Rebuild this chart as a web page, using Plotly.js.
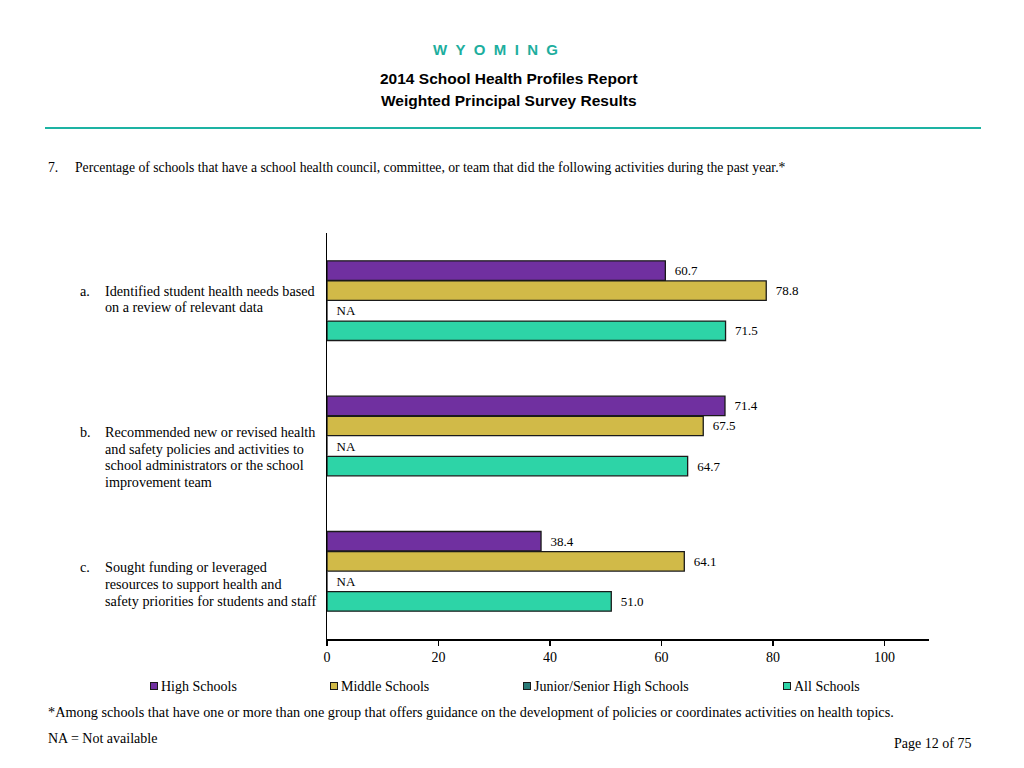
<!DOCTYPE html>
<html>
<head>
<meta charset="utf-8">
<script src="https://cdn.plot.ly/plotly-3.0.1.min.js"></script>
<style>html,body{margin:0;padding:0;background:#fff;} #chart{width:1024px;height:768px;}</style>
</head>
<body>
<div id="chart"></div>
<script>
// ---- data ----
const itemLetters = ['a.', 'b.', 'c.'];
const itemLabels = [
  'Identified student health needs based<br>on a review of relevant data',
  'Recommended new or revised health<br>and safety policies and activities to<br>school administrators or the school<br>improvement team',
  'Sought funding or leveraged<br>resources to support health and<br>safety priorities for students and staff'
];
const seriesNames = ['High Schools', 'Middle Schools', 'Junior/Senior High Schools', 'All Schools'];
const highSchools = [60.7, 71.4, 38.4];
const middleSchools = [78.8, 67.5, 64.1];
const juniorSeniorHigh = [null, null, null];
const allSchools = [71.5, 64.7, 51.0];
const xTicks = [0, 20, 40, 60, 80, 100];

// ---- styles ----
const colors = ['#7030A0', '#D1BA48', '#2A7B78', '#2DD4A7'];
const serif = 'Liberation Serif, Times New Roman, serif';
const sans = 'Liberation Sans, Arial, sans-serif';
const labelTopShift = [10, 4, 4];   // first-line offset above category centre (px)
const labelLineGap = 16.7;
const legendPx = [154, 334, 527, 787]; // legend square centres (px)

const catIdx = itemLabels.map((_, i) => i);
const seriesData = [highSchools, middleSchools, juniorSeniorHigh, allSchools];

const traces = seriesData.map((vals, s) => ({
  type: 'bar',
  orientation: 'h',
  name: seriesNames[s],
  y: catIdx,
  x: vals.map(v => v == null ? 0 : v),
  text: vals.map(v => v == null ? 'NA' : v.toFixed(1)),
  texttemplate: '\u00a0\u00a0%{text}',
  textposition: 'outside',
  constraintext: 'none',
  cliponaxis: false,
  textfont: {family: serif, size: 13, color: '#000'},
  marker: {color: colors[s], line: {color: '#1a1a1a', width: 1.3}},
  showlegend: false,
  hoverinfo: 'skip'
}));

// pixel helpers for layout decoration (plot area: x 327..929, y 233..639)
const L = 327, R = 929, T = 233, B = 639;
const px = x => (x - L) / (R - L);
const py = y => (B - y) / (B - T);

const annotations = [
  {text: '<b>W\u00a0\u00a0Y\u00a0\u00a0O\u00a0\u00a0M\u00a0\u00a0I\u00a0\u00a0N\u00a0\u00a0G</b>', x: px(495), y: py(50), font: {family: sans, size: 15, color: '#1DAE9E'}},
  {text: '<b>2014 School Health Profiles Report</b>', x: px(508.5), y: py(79), font: {family: sans, size: 15.5, color: '#000'}},
  {text: '<b>Weighted Principal Survey Results</b>', x: px(508.5), y: py(101), font: {family: sans, size: 15.5, color: '#000'}},
  {text: '7.', x: px(46), y: py(168), xanchor: 'left', font: {family: serif, size: 13.7, color: '#000'}},
  {text: 'Percentage of schools that have a school health council, committee, or team that did the following activities during the past year.*', x: px(73), y: py(168), xanchor: 'left', font: {family: serif, size: 13.7, color: '#000'}},
  {text: '*Among schools that have one or more than one group that offers guidance on the development of policies or coordinates activities on health topics.', x: px(46), y: py(712), xanchor: 'left', font: {family: serif, size: 14.25, color: '#000'}},
  {text: 'NA = Not available', x: px(46), y: py(738), xanchor: 'left', font: {family: serif, size: 14, color: '#000'}},
  {text: 'Page 12 of 75', x: px(973), y: py(743), xanchor: 'right', font: {family: serif, size: 14, color: '#000'}}
].map(a => Object.assign({xref: 'paper', yref: 'paper', showarrow: false, yanchor: 'middle', xanchor: 'center'}, a));

// category labels
itemLabels.forEach((lab, i) => {
  annotations.push({text: itemLetters[i], xref: 'paper', yref: 'y', x: px(78), y: i, xanchor: 'left', yanchor: 'middle', yshift: labelTopShift[i], showarrow: false, font: {family: serif, size: 14.2, color: '#000'}});
  lab.split('<br>').forEach((line, k) => {
    annotations.push({text: line, xref: 'paper', yref: 'y', x: px(103), y: i, xanchor: 'left', yanchor: 'middle', yshift: labelTopShift[i] - k * labelLineGap, showarrow: false, font: {family: serif, size: 14.2, color: '#000'}});
  });
});

// legend (square + label)
seriesNames.forEach((name, s) => {
  annotations.push({text: '\u00a0', xref: 'paper', yref: 'paper', x: px(legendPx[s]), y: py(686), xanchor: 'center', yanchor: 'middle', showarrow: false, width: 6, height: 6, borderpad: 0, borderwidth: 1, bordercolor: '#1a1a1a', bgcolor: colors[s], font: {size: 4}});
  annotations.push({text: name, xref: 'paper', yref: 'paper', x: px(legendPx[s] + 5), y: py(686), xanchor: 'left', yanchor: 'middle', showarrow: false, font: {family: serif, size: 14, color: '#000'}});
});

const layout = {
  width: 1024, height: 768,
  margin: {l: L, r: 1024 - R, t: T, b: 768 - B},
  paper_bgcolor: '#fff', plot_bgcolor: '#fff',
  barmode: 'group', bargap: 0.407, bargroupgap: 0.03,
  showlegend: false,
  xaxis: {
    range: [0, 108], tickvals: xTicks, ticktext: xTicks.map(String),
    showgrid: false, zeroline: false, showline: true, linecolor: '#000', linewidth: 1.5,
    ticks: 'outside', ticklen: 5, tickcolor: '#000', tickwidth: 1.3,
    tickfont: {family: serif, size: 14, color: '#000'}, fixedrange: true
  },
  yaxis: {
    range: [2.5, -0.5], showticklabels: false, showgrid: false, zeroline: false,
    showline: true, linecolor: '#000', linewidth: 1.5, ticks: '', fixedrange: true
  },
  annotations: annotations,
  shapes: [{type: 'line', xref: 'paper', yref: 'paper', x0: px(45), x1: px(981), y0: py(128), y1: py(128), line: {color: '#1DB3A3', width: 2}}]
};

Plotly.newPlot('chart', traces, layout, {staticPlot: true, displayModeBar: false});
</script>
</body>
</html>
